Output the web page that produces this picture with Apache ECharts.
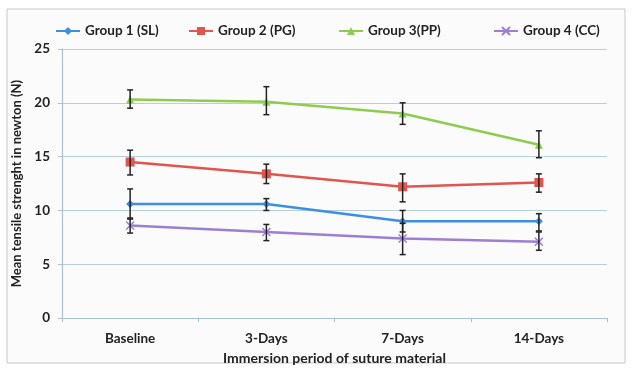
<!DOCTYPE html>
<html><head><meta charset="utf-8">
<script src="https://cdn.jsdelivr.net/npm/echarts@6/dist/echarts.min.js"></script>
<style>html,body{margin:0;padding:0;background:#fff}#c{width:632px;height:370px}</style>
</head><body><div id="c"></div>
<script>
const categories = ['Baseline', '3-Days', '7-Days', '14-Days'];
const seriesNames = ['Group 1 (SL)', 'Group 2 (PG)', 'Group 3(PP)', 'Group 4 (CC)'];
const g1 = [10.6, 10.6, 9.0, 9.0];
const g2 = [14.5, 13.4, 12.2, 12.6];
const g3 = [20.3, 20.1, 19.0, 16.1];
const g4 = [8.6, 8.0, 7.4, 7.1];
const g1Low = [9.2, 10.0, 8.0, 8.1], g1High = [12.0, 11.1, 10.0, 9.7];
const g2Low = [13.3, 12.5, 10.8, 11.7], g2High = [15.6, 14.3, 13.4, 13.4];
const g3Low = [19.5, 18.9, 18.0, 14.9], g3High = [21.2, 21.5, 20.0, 17.4];
const g4Low = [7.9, 7.2, 5.9, 6.3], g4High = [9.3, 8.7, 8.8, 8.0];
const yTicks = [0, 5, 10, 15, 20, 25];

const colors = ['#3d8fe0', '#e0554e', '#8fcb4f', '#9b7fd2'];
const symbols = ['diamond', 'rect', 'triangle', 'path://M0,0L10,10M10,0L0,10'];
const values = [g1, g2, g3, g4];
const lows = [g1Low, g2Low, g3Low, g4Low];
const highs = [g1High, g2High, g3High, g4High];

const chart = echarts.init(document.getElementById('c'), null, {renderer: 'canvas'});
const font = 'Lato, "Open Sans", sans-serif';

const series = [];
values.forEach((v, i) => {
  series.push({
    name: seriesNames[i], type: 'line', data: v,
    symbol: symbols[i], symbolSize: i === 1 ? 9 : 8,
    lineStyle: {color: colors[i], width: 2.5},
    itemStyle: {color: colors[i], borderColor: colors[i], borderWidth: i === 3 ? 1.5 : 0},
    z: 2
  });
});
values.forEach((v, i) => {
  series.push({
    type: 'custom', z: 5, silent: true,
    data: categories.map((c, k) => [k, lows[i][k], highs[i][k]]),
    renderItem: function (params, api) {
      const lo = api.coord([api.value(0), api.value(1)]);
      const hi = api.coord([api.value(0), api.value(2)]);
      const w = 3;
      const style = {stroke: '#222', lineWidth: 1.5};
      return {type: 'group', children: [
        {type: 'line', shape: {x1: lo[0], y1: lo[1], x2: hi[0], y2: hi[1]}, style: style},
        {type: 'line', shape: {x1: lo[0]-w, y1: lo[1], x2: lo[0]+w, y2: lo[1]}, style: style},
        {type: 'line', shape: {x1: hi[0]-w, y1: hi[1], x2: hi[0]+w, y2: hi[1]}, style: style}
      ]};
    }
  });
});

const legendLefts = [50, 183, 333, 488];
const legends = seriesNames.map((n, i) => ({
  data: [n], left: legendLefts[i], top: 19, itemWidth: 24, itemHeight: 10, itemGap: 6,
  textStyle: {fontFamily: font, fontWeight: 'bold', fontSize: 13.5, color: '#222'}
}));

chart.setOption({
  animation: false,
  backgroundColor: '#fff',
  graphic: [{type: 'rect', shape: {x: 7, y: 9, width: 618, height: 354}, style: {fill: '#fbfbfc', stroke: '#c8c8c8', lineWidth: 1}, z: -10}],
  legend: legends,
  grid: {left: 62, right: 25, top: 49, bottom: 48},
  xAxis: {
    type: 'category', data: categories, boundaryGap: true,
    name: 'Immersion period of suture material', nameLocation: 'middle', nameGap: 31,
    nameTextStyle: {fontFamily: font, fontWeight: 'bold', fontSize: 14, color: '#222'},
    axisLine: {lineStyle: {color: '#a9bfd3', width: 1.2}},
    axisTick: {show: true, alignWithLabel: false, length: 4, lineStyle: {color: '#a9bfd3'}},
    axisLabel: {fontFamily: font, fontWeight: 'bold', fontSize: 13.5, color: '#222', margin: 14}
  },
  yAxis: {
    type: 'value', min: yTicks[0], max: yTicks[yTicks.length-1], interval: 5,
    name: 'Mean tensile strenght in newton (N)', nameLocation: 'middle', nameGap: 32,
    nameTextStyle: {fontFamily: font, fontWeight: 'bold', fontSize: 13, color: '#222'},
    axisLine: {show: true, lineStyle: {color: '#a9bfd3', width: 1.2}},
    axisTick: {show: true, length: 4, lineStyle: {color: '#a9bfd3'}},
    splitLine: {lineStyle: {color: '#b9cfe0', width: 1.2}},
    axisLabel: {fontFamily: font, fontWeight: 'bold', fontSize: 13.5, color: '#222', margin: 12}
  },
  series: series
});
</script></body></html>
